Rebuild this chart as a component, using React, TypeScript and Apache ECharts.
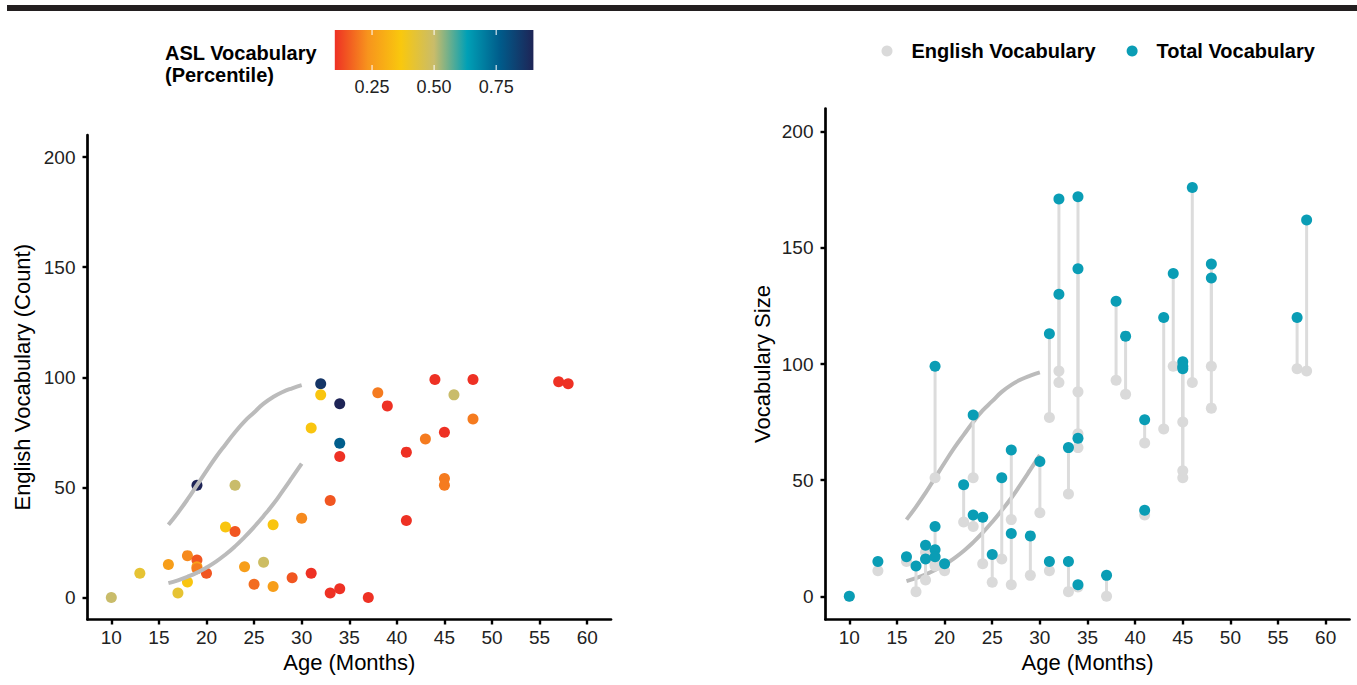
import React, { useEffect, useRef } from "react";
import * as echarts from "echarts";

// ---- Data ----
const AGES = [10, 13, 16, 17, 18, 18, 19, 19, 19, 19, 20, 22, 23, 23, 24, 25, 26, 27, 27, 29, 30, 31, 31, 32, 32, 33, 33, 34, 34, 34, 34, 37, 38, 39, 41, 41, 43, 44, 45, 45, 45, 46, 48, 48, 57, 58];
const ENGLISH = [0, 11, 15, 2, 19, 7, 51, 17, 14, 13, 11, 32, 51, 30, 14, 6, 16, 33, 5, 9, 36, 77, 11, 97, 92, 44, 2, 88, 70, 64, 4, 0, 93, 87, 66, 35, 72, 99, 75, 54, 51, 92, 99, 81, 98, 97];
const TOTAL = [0, 15, 17, 13, 22, 16, 99, 20, 30, 17, 14, 48, 78, 35, 34, 18, 51, 63, 27, 26, 58, 113, 15, 171, 130, 64, 15, 172, 141, 68, 5, 9, 127, 112, 76, 37, 120, 139, 98, 101, 99, 176, 143, 137, 120, 162];
const ASL_PCT = [0.5, 0.42, 0.26, 0.42, 0.22, 0.36, 0.9, 0.15, 0.26, 0.2, 0.15, 0.36, 0.5, 0.15, 0.26, 0.18, 0.49, 0.36, 0.26, 0.15, 0.22, 0.36, 0.1, 0.86, 0.36, 0.15, 0.1, 0.9, 0.76, 0.1, 0.1, 0.1, 0.2, 0.1, 0.1, 0.1, 0.2, 0.1, 0.1, 0.2, 0.2, 0.5, 0.1, 0.2, 0.1, 0.1];

const CURVE_AGES = [16, 17, 18, 19, 20, 21, 22, 23, 24, 25, 26, 27, 28, 29, 30];
const CURVE_UPPER = [33, 38.5, 44.5, 51, 57.5, 63.8, 69.5, 75, 80, 84, 88, 91, 93.3, 95, 96.4];
const CURVE_LOWER = [6.5, 7.8, 9.4, 11.3, 13.6, 16.3, 19.5, 23.2, 27.4, 32, 37, 42.3, 48.3, 54.5, 60.8];

const X_TICKS = [10, 15, 20, 25, 30, 35, 40, 45, 50, 55, 60];
const Y_TICKS = [0, 50, 100, 150, 200];
const PCT_MIN = 0.1;
const PCT_MAX = 0.9;
const COLORBAR_TICKS = [0.25, 0.5, 0.75];
const COLORBAR_COLORS = ["#EE3124", "#F7941D", "#F9C80E", "#C9BC6A", "#00A0B6", "#005B8A", "#1E2456"];

const FONT = "'Liberation Sans', Arial, Helvetica, sans-serif";
const TEAL = "#0A9DB5";
const GREY_DOT = "#DADADA";
const SEG = "#DCDCDC";
const CURVE = "#BBBBBB";

function axisX(gridIndex: number) {
  return {
    type: "value",
    gridIndex,
    min: 7.5,
    max: 62.5,
    name: "Age (Months)",
    nameLocation: "middle",
    nameGap: 32,
    nameTextStyle: { fontFamily: FONT, fontSize: 22, color: "#000" },
    axisLine: { show: true, onZero: false, lineStyle: { color: "#000", width: 2.7 } },
    axisTick: { show: true, length: 5, customValues: X_TICKS, lineStyle: { color: "#000", width: 2.4 } },
    axisLabel: { customValues: X_TICKS, margin: 8, fontFamily: FONT, fontSize: 19, color: "#222" },
    splitLine: { show: false },
  };
}
function axisY(gridIndex: number, name: string, gap: number) {
  return {
    type: "value",
    gridIndex,
    min: -10,
    max: 210,
    name,
    nameLocation: "middle",
    nameGap: gap,
    nameTextStyle: { fontFamily: FONT, fontSize: 22, color: "#000" },
    axisLine: { show: true, onZero: false, lineStyle: { color: "#000", width: 2.7 } },
    axisTick: { show: true, length: 5, customValues: Y_TICKS, lineStyle: { color: "#000", width: 2.4 } },
    axisLabel: { customValues: Y_TICKS, margin: 12, fontFamily: FONT, fontSize: 19, color: "#222" },
    splitLine: { show: false },
  };
}

export default function App() {
  const ref = useRef<HTMLDivElement>(null);
  useEffect(() => {
    if (!ref.current) return;
    const chart = echarts.init(ref.current, undefined, { renderer: "svg" });

    const leftData = AGES.map((a, i) => [a, ENGLISH[i], ASL_PCT[i]]);
    const segData = AGES.map((a, i) => [a, ENGLISH[i], TOTAL[i]]);
    const engData = AGES.map((a, i) => [a, ENGLISH[i]]);
    const totData = AGES.map((a, i) => [a, TOTAL[i]]);
    const upper = CURVE_AGES.map((a, i) => [a, CURVE_UPPER[i]]);
    const lower = CURVE_AGES.map((a, i) => [a, CURVE_LOWER[i]]);

    const barX = 334.8, barW = 198.6, barY = 30, barH = 40;
    const pctToX = (v: number) => barX + ((v - PCT_MIN) / (PCT_MAX - PCT_MIN)) * barW;
    const gradient = new echarts.graphic.LinearGradient(
      0, 0, 1, 0,
      COLORBAR_COLORS.map((c, i) => ({ offset: i / (COLORBAR_COLORS.length - 1), color: c }))
    );

    const graphics: any[] = [
      { type: "rect", left: 7, top: 5, shape: { x: 0, y: 0, width: 1350, height: 6 }, style: { fill: "#231F20" } },
      { type: "text", x: 165, y: 53, style: { text: "ASL Vocabulary", font: `bold 20px ${FONT}`, fill: "#000", verticalAlign: "middle" } },
      { type: "text", x: 165, y: 75, style: { text: "(Percentile)", font: `bold 20px ${FONT}`, fill: "#000", verticalAlign: "middle" } },
      { type: "rect", shape: { x: barX, y: barY, width: barW, height: barH }, style: { fill: gradient } },
    ];
    COLORBAR_TICKS.forEach((t) => {
      const x = pctToX(t);
      graphics.push({ type: "line", shape: { x1: x, y1: barY, x2: x, y2: barY + 5 }, style: { stroke: "#fff", lineWidth: 1 } });
      graphics.push({ type: "line", shape: { x1: x, y1: barY + barH - 5, x2: x, y2: barY + barH }, style: { stroke: "#fff", lineWidth: 1 } });
      graphics.push({ type: "text", x, y: 87, style: { text: t.toFixed(2), font: `18px ${FONT}`, fill: "#222", align: "center", verticalAlign: "middle" } });
    });

    const option: any = {
      animation: false,
      backgroundColor: "#fff",
      textStyle: { fontFamily: FONT },
      grid: [
        { left: 87.5, top: 135, width: 523.5, height: 484.5 },
        { left: 825.5, top: 108.5, width: 524, height: 511 },
      ],
      xAxis: [axisX(0), axisX(1)],
      yAxis: [axisY(0, "English Vocabulary (Count)", 54), axisY(1, "Vocabulary Size", 52)],
      visualMap: {
        type: "continuous",
        show: false,
        min: PCT_MIN,
        max: PCT_MAX,
        dimension: 2,
        seriesIndex: 0,
        inRange: { color: COLORBAR_COLORS },
      },
      legend: {
        left: 876.5,
        top: 36,
        itemWidth: 11,
        itemHeight: 11,
        itemGap: 31,
        icon: "circle",
        data: ["English Vocabulary", "Total Vocabulary"],
        textStyle: { fontFamily: FONT, fontSize: 20, fontWeight: "bold", color: "#000", padding: [0, 0, 0, 14] },
      },
      graphic: graphics,
      series: [
        {
          type: "scatter",
          xAxisIndex: 0,
          yAxisIndex: 0,
          symbolSize: 11,
          itemStyle: { opacity: 1 },
          data: leftData,
          z: 2,
        },
        {
          type: "line",
          xAxisIndex: 0,
          yAxisIndex: 0,
          data: upper,
          smooth: true,
          symbol: "none",
          lineStyle: { color: CURVE, width: 4 },
          z: 3,
        },
        {
          type: "line",
          xAxisIndex: 0,
          yAxisIndex: 0,
          data: lower,
          smooth: true,
          symbol: "none",
          lineStyle: { color: CURVE, width: 4 },
          z: 3,
        },
        {
          type: "line",
          xAxisIndex: 1,
          yAxisIndex: 1,
          data: upper,
          smooth: true,
          symbol: "none",
          lineStyle: { color: CURVE, width: 4 },
          z: 1,
        },
        {
          type: "line",
          xAxisIndex: 1,
          yAxisIndex: 1,
          data: lower,
          smooth: true,
          symbol: "none",
          lineStyle: { color: CURVE, width: 4 },
          z: 1,
        },
        {
          type: "custom",
          xAxisIndex: 1,
          yAxisIndex: 1,
          data: segData,
          encode: { x: 0, y: [1, 2] },
          z: 2,
          renderItem: (params: any, api: any) => {
            const p1 = api.coord([api.value(0), api.value(1)]);
            const p2 = api.coord([api.value(0), api.value(2)]);
            return {
              type: "line",
              shape: { x1: p1[0], y1: p1[1], x2: p2[0], y2: p2[1] },
              style: { stroke: SEG, lineWidth: 3 },
            };
          },
        },
        {
          name: "English Vocabulary",
          type: "scatter",
          xAxisIndex: 1,
          yAxisIndex: 1,
          symbolSize: 11,
          itemStyle: { color: GREY_DOT, opacity: 1 },
          data: engData,
          z: 3,
        },
        {
          name: "Total Vocabulary",
          type: "scatter",
          xAxisIndex: 1,
          yAxisIndex: 1,
          symbolSize: 11,
          itemStyle: { color: TEAL, opacity: 1 },
          data: totData,
          z: 4,
        },
      ],
    };
    chart.setOption(option);
    return () => chart.dispose();
  }, []);

  return <div ref={ref} style={{ position: "absolute", left: 0, top: 0, width: 1357, height: 685 }} />;
}
